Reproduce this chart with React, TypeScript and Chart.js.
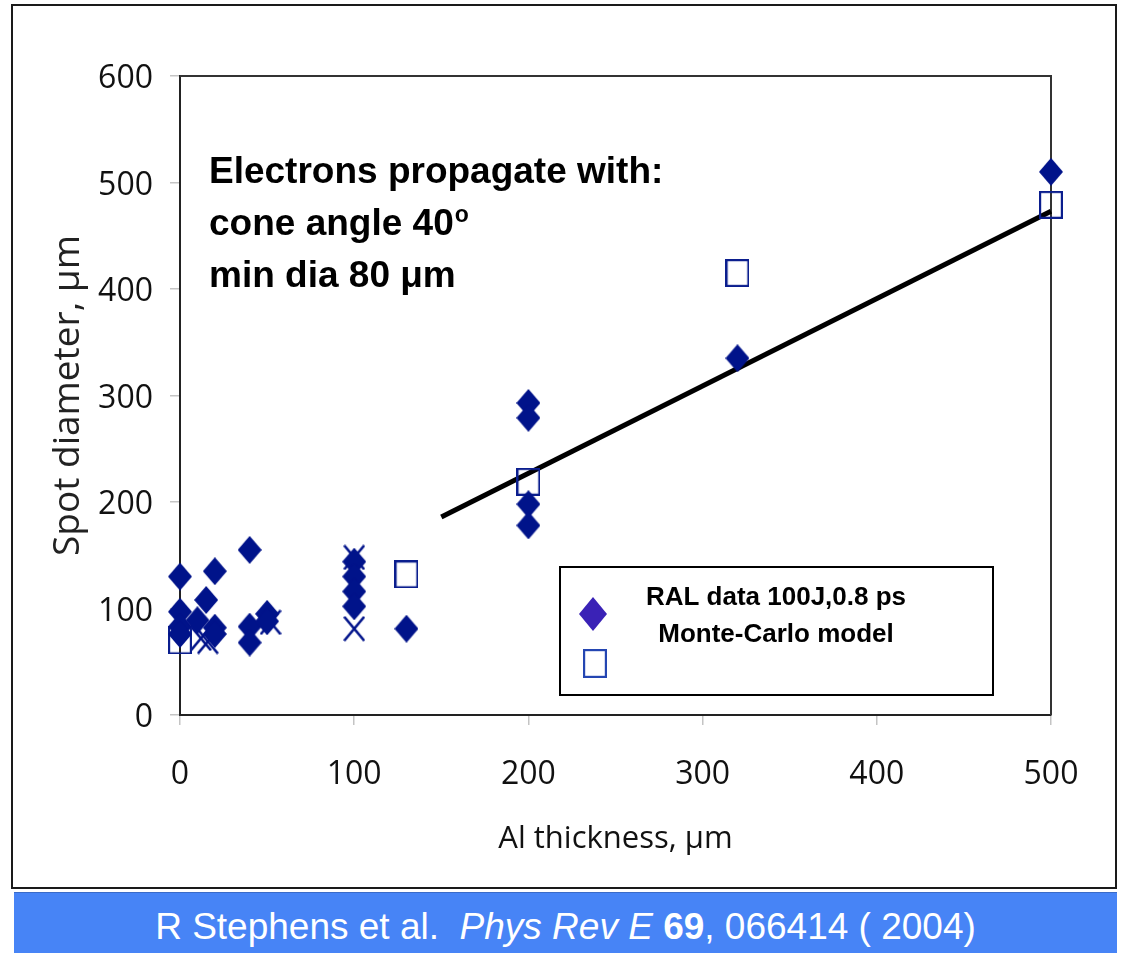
import { useEffect, useRef } from "react";
import { Chart, registerables } from "chart.js";

Chart.register(...registerables);

// Axis tick values
const xTickValues = [0, 100, 200, 300, 400, 500];
const yTickValues = [0, 100, 200, 300, 400, 500, 600];

// RAL measured spot diameters (µm) vs Al thickness (µm)
const ralThickness = [0, 0, 0, 0, 10, 15, 20, 20, 20, 40, 40, 40, 50, 50, 100, 100, 100, 100, 130, 200, 200, 200, 200, 320, 500];
const ralDiameter = [130, 97, 83, 76, 89, 108, 135, 82, 76, 155, 83, 68, 95, 88, 144, 130, 116, 102, 81, 293, 279, 198, 178, 335, 510];

// Monte-Carlo model
const mcThickness = [0, 130, 200, 320, 500];
const mcDiameter = [70, 132, 219, 415, 479];

// Additional shots (cross markers)
const extraThickness = [12, 16, 52, 100, 100];
const extraDiameter = [72, 69, 87, 148, 81];

// Propagation fit line
const fitThickness = [150, 500];
const fitDiameter = [186, 473];

const NAVY = "#00138a";
const TICK_FONT = { family: "'Open Sans', sans-serif", size: 32 };

function makeDiamond(w: number, h: number, color: string) {
  const c = document.createElement("canvas");
  c.width = w;
  c.height = h;
  const g = c.getContext("2d")!;
  g.fillStyle = color;
  g.beginPath();
  g.moveTo(w / 2, 0);
  g.lineTo(w, h / 2);
  g.lineTo(w / 2, h);
  g.lineTo(0, h / 2);
  g.closePath();
  g.fill();
  return c;
}

function makeSquare(w: number, h: number, color: string) {
  const c = document.createElement("canvas");
  c.width = w;
  c.height = h;
  const g = c.getContext("2d")!;
  g.strokeStyle = color;
  g.lineWidth = 2.2;
  g.strokeRect(1.1, 1.1, w - 2.2, h - 2.2);
  return c;
}

function makeCross(w: number, h: number, color: string) {
  const c = document.createElement("canvas");
  c.width = w;
  c.height = h;
  const g = c.getContext("2d")!;
  g.strokeStyle = color;
  g.lineWidth = 2.6;
  g.beginPath();
  g.moveTo(1, 1);
  g.lineTo(w - 1, h - 1);
  g.moveTo(w - 1, 1);
  g.lineTo(1, h - 1);
  g.stroke();
  return c;
}

const pts = (xs: number[], ys: number[]) => xs.map((x, i) => ({ x, y: ys[i] }));

export default function App() {
  const canvasRef = useRef<HTMLCanvasElement | null>(null);

  useEffect(() => {
    const canvas = canvasRef.current;
    if (!canvas) return;

    const diamond = makeDiamond(24, 28, NAVY);
    const square = makeSquare(24, 28, "#0b1e8e");
    const cross = makeCross(22, 26, NAVY);
    const legendDiamond = makeDiamond(28, 34, "#3a22b6");
    const legendSquare = makeSquare(24, 29, "#2446b2");

    const overlay = {
      id: "overlay",
      beforeDatasetsDraw(chart: any) {
        const { ctx, chartArea: a } = chart;
        ctx.save();
        ctx.strokeStyle = "#333";
        ctx.lineWidth = 2;
        ctx.beginPath();
        ctx.moveTo(a.left, a.top);
        ctx.lineTo(a.right, a.top);
        ctx.lineTo(a.right, a.bottom);
        ctx.stroke();
        ctx.restore();
      },
      afterDraw(chart: any) {
        const { ctx } = chart;
        ctx.save();
        // Annotation
        ctx.fillStyle = "#000";
        ctx.textBaseline = "alphabetic";
        ctx.textAlign = "left";
        const big = "bold 37px 'Liberation Sans', Arial, sans-serif";
        ctx.font = big;
        ctx.fillText("Electrons propagate with:", 209, 183);
        const l2 = "cone angle 40";
        ctx.fillText(l2, 209, 235);
        const w2 = ctx.measureText(l2).width;
        ctx.font = "bold 23px 'Liberation Sans', Arial, sans-serif";
        ctx.fillText("o", 209 + w2 + 1, 222);
        ctx.font = big;
        ctx.fillText("min dia 80 \u03bcm", 209, 287);

        // Legend box
        ctx.fillStyle = "#fff";
        ctx.fillRect(560, 567, 433, 128);
        ctx.strokeStyle = "#000";
        ctx.lineWidth = 2;
        ctx.strokeRect(560, 567, 433, 128);
        ctx.fillStyle = "#000";
        ctx.textAlign = "center";
        ctx.font = "bold 26px 'Liberation Sans', Arial, sans-serif";
        ctx.fillText("RAL data 100J,0.8 ps", 776, 605);
        ctx.fillText("Monte-Carlo model", 776, 642);
        ctx.drawImage(legendDiamond, 593 - 14, 614 - 17);
        ctx.drawImage(legendSquare, 595 - 12, 663 - 14);
        ctx.restore();
      },
    };

    const chart = new Chart(canvas, {
      type: "scatter",
      data: {
        datasets: [
          {
            label: "RAL data 100J,0.8 ps",
            data: pts(ralThickness, ralDiameter),
            pointStyle: diamond as any,
            pointRadius: 12,
            clip: false as any,
          },
          {
            label: "Monte-Carlo model",
            data: pts(mcThickness, mcDiameter),
            pointStyle: square as any,
            pointRadius: 12,
            clip: false as any,
          },
          {
            label: "extra",
            data: pts(extraThickness, extraDiameter),
            pointStyle: cross as any,
            pointRadius: 12,
            clip: false as any,
          },
          {
            type: "line",
            label: "fit",
            data: pts(fitThickness, fitDiameter),
            borderColor: "#000",
            borderWidth: 5,
            pointRadius: 0,
            showLine: true,
            clip: false as any,
          } as any,
        ],
      },
      options: {
        responsive: false,
        animation: false,
        devicePixelRatio: 1,
        layout: { padding: { left: 0, top: 76, right: 71, bottom: 0 } },
        plugins: {
          legend: { display: false },
          tooltip: { enabled: false },
        },
        scales: {
          x: {
            type: "linear",
            min: 0,
            max: 500,
            afterBuildTicks: (s: any) => {
              s.ticks = xTickValues.map((v) => ({ value: v }));
            },
            afterFit: (s: any) => {
              s.height = 888 - 715;
            },
            ticks: { font: TICK_FONT, color: "#111", padding: 31, maxRotation: 0 },
            grid: { drawOnChartArea: false, drawTicks: true, tickLength: 10, color: "#c4c4c4", lineWidth: 1.5 },
            border: { display: true, color: "#222", width: 2 },
            title: {
              display: true,
              text: "Al thickness, \u03bcm",
              font: { family: "'Open Sans', sans-serif", size: 31 },
              color: "#111",
              padding: { top: 0, bottom: 30 },
            },
          },
          y: {
            type: "linear",
            min: 0,
            max: 600,
            afterBuildTicks: (s: any) => {
              s.ticks = yTickValues.map((v) => ({ value: v }));
            },
            afterFit: (s: any) => {
              s.width = 180;
            },
            ticks: { font: TICK_FONT, color: "#111", padding: 17, labelOffset: 3 },
            grid: { drawOnChartArea: false, drawTicks: true, tickLength: 10, color: "#c4c4c4", lineWidth: 1.5 },
            border: { display: true, color: "#222", width: 2 },
            title: {
              display: true,
              text: "Spot diameter, \u03bcm",
              font: { family: "'Open Sans', sans-serif", size: 37 },
              color: "#222",
              padding: { top: 46, bottom: 0 },
            },
          },
        },
      },
      plugins: [overlay],
    });

    return () => chart.destroy();
  }, []);

  return (
    <div style={{ position: "absolute", left: 0, top: 0, width: 1122, height: 953, background: "#fff" }}>
      <div
        style={{
          position: "absolute",
          left: 11,
          top: 4,
          width: 1106,
          height: 885,
          border: "2px solid #1a1a1a",
          boxSizing: "border-box",
        }}
      />
      <canvas ref={canvasRef} width={1122} height={888} style={{ position: "absolute", left: 0, top: 0 }} />
      <div
        style={{
          position: "absolute",
          left: 14,
          top: 892,
          width: 1103,
          height: 61,
          background: "#4784f6",
          borderTop: "1px solid #3a6bc8",
          boxSizing: "border-box",
          color: "#fff",
          fontFamily: "'Liberation Sans', Arial, sans-serif",
          fontSize: 37,
          lineHeight: "60px",
          paddingTop: 4,
          textAlign: "center",
          whiteSpace: "pre",
        }}
      >
        {"R Stephens et al.  "}
        <i>Phys Rev E</i> <b>69</b>
        {", 066414 ( 2004)"}
      </div>
    </div>
  );
}
